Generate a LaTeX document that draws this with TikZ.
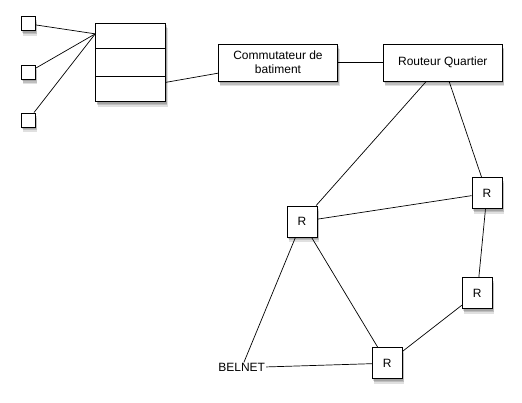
\documentclass[tikz,border=0pt]{standalone}
\usepackage{fontspec}
\setmainfont{Liberation Sans}
\usetikzlibrary{shadows}
\begin{document}
\begin{tikzpicture}[x=1pt,y=-1pt,
  box/.style={draw, fill=white, line width=0.9pt, inner sep=0pt, align=center,
    drop shadow={shadow xshift=1pt, shadow yshift=-2pt, opacity=0.15, fill=black},
    drop shadow={shadow xshift=1.5pt, shadow yshift=-3.5pt, opacity=0.15, fill=black},
    drop shadow={shadow xshift=2pt, shadow yshift=-5pt, opacity=0.12, fill=black}},
  sq/.style={box, minimum width=14pt, minimum height=14pt},
  rbox/.style={box, minimum width=30pt, minimum height=31pt},
  link/.style={line width=0.7pt},
  font=\fontsize{12}{14}\selectfont]
\useasboundingbox (0,0) rectangle (522,403);
% small squares
\node[sq] (s1) at (28.2,23.8) {};
\node[sq] (s2) at (28.2,72.5) {};
\node[sq] (s3) at (28.2,120) {};
% stack box
\node[box, minimum width=70pt, minimum height=78.4pt] (st) at (130.7,62.5) {};
\draw[line width=0.9pt] ([yshift=-26pt]st.north west) -- ([yshift=-26pt]st.north east);
\draw[line width=0.9pt] ([yshift=-53.4pt]st.north west) -- ([yshift=-53.4pt]st.north east);
\coordinate (cv) at ([yshift=-11pt]st.north west);
\coordinate (se) at ([yshift=-19.8pt]st.east);
% main boxes
\node[box, minimum width=119.4pt, minimum height=36.7pt] (com) at (278,62.7) {Commutateur de\\batiment};
\node[box, minimum width=119pt, minimum height=36.7pt] (rq) at (442.8,62.7) {Routeur Quartier};
% routers
\node[rbox] (r1) at (302,221.5) {R};
\node[rbox] (r2) at (487,193.3) {R};
\node[rbox] (r3) at (477.3,293.2) {R};
\node[rbox] (r4) at (387.3,363.2) {R};
\node[inner sep=1pt] (bel) at (241.7,367.7) {BELNET};
% connectors
\draw[link] (s1) -- (cv);
\draw[link] (s2) -- (cv);
\draw[link] (s3) -- (cv);
\draw[link] (se) -- (com);
\draw[link] (com) -- (rq);
\draw[link] (rq) -- (r1);
\draw[link] (rq) -- (r2);
\draw[link] (r1) -- (r2);
\draw[link] (r2) -- (r3);
\draw[link] (r3) -- (r4);
\draw[link] (r1) -- (r4);
\draw[link] (r1) -- (bel);
\draw[link] (bel) -- (r4);
\end{tikzpicture}
\end{document}
